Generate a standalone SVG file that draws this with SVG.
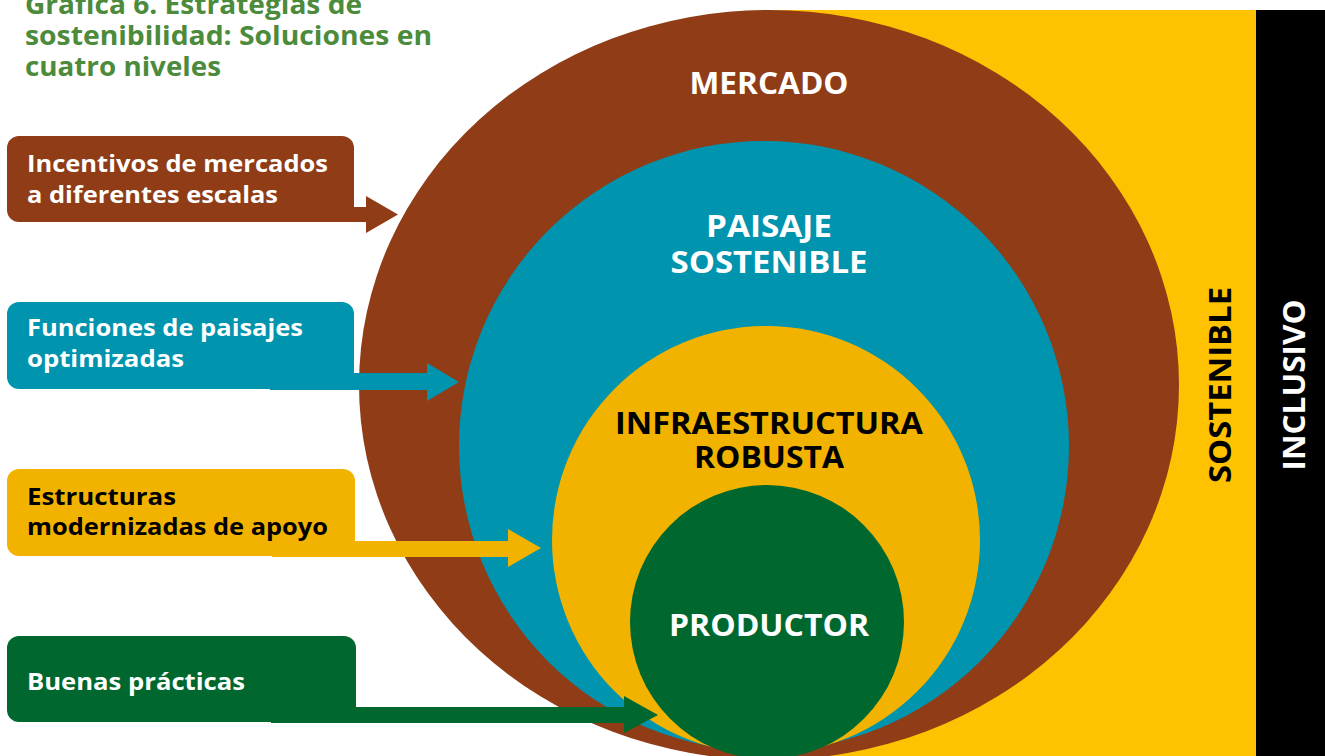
<svg xmlns="http://www.w3.org/2000/svg" width="1325" height="756" viewBox="0 0 1325 756">
<style>
.t{font-family:"Open Sans","Liberation Sans",sans-serif;font-weight:700}
.ttl{fill:#4b8b3b;font-size:27px}
.lbl{font-size:24px}
.big{font-size:30px;text-anchor:middle}
.w{fill:#ffffff}
.k{fill:#000000}
</style>
<rect width="1325" height="756" fill="#ffffff"/>
<g id="bands">
<rect x="775" y="10" width="481" height="746" fill="#fec200"/>
<rect x="1256" y="10" width="69" height="746" fill="#000000"/>
<text class="t k" font-size="31" text-anchor="middle" transform="translate(1231,385) rotate(-90)" textLength="196" lengthAdjust="spacingAndGlyphs">SOSTENIBLE</text>
<text class="t w" font-size="31" text-anchor="middle" transform="translate(1305,385) rotate(-90)" textLength="171" lengthAdjust="spacingAndGlyphs">INCLUSIVO</text>
</g>
<g id="title">
<text class="t ttl" x="25" y="14" textLength="337" lengthAdjust="spacingAndGlyphs">Gráfica 6. Estrategias de</text>
<text class="t ttl" x="25" y="45" textLength="407" lengthAdjust="spacingAndGlyphs">sostenibilidad: Soluciones en</text>
<text class="t ttl" x="25" y="76" textLength="196" lengthAdjust="spacingAndGlyphs">cuatro niveles</text>
</g>
<g id="mercado">
<ellipse cx="769" cy="385" rx="410" ry="375" fill="#8f3c17"/>
<text class="t big w" x="769" y="94" textLength="159" lengthAdjust="spacingAndGlyphs">MERCADO</text>
</g>
<g id="paisaje">
<circle cx="764" cy="446" r="305" fill="#0094ae"/>
<text class="t big w" x="769" y="237" textLength="126" lengthAdjust="spacingAndGlyphs">PAISAJE</text>
<text class="t big w" x="769" y="273" textLength="197" lengthAdjust="spacingAndGlyphs">SOSTENIBLE</text>
</g>
<g id="infraestructura">
<circle cx="766" cy="540" r="214" fill="#f2b200"/>
<text class="t big k" x="769" y="434" textLength="308" lengthAdjust="spacingAndGlyphs">INFRAESTRUCTURA</text>
<text class="t big k" x="769" y="468" textLength="150" lengthAdjust="spacingAndGlyphs">ROBUSTA</text>
</g>
<g id="productor">
<circle cx="767" cy="622" r="137" fill="#00682e"/>
<text class="t big w" x="769" y="636" textLength="200" lengthAdjust="spacingAndGlyphs">PRODUCTOR</text>
</g>
<g id="connectors">
<path d="M300,207 H366 V196 L398,214.5 L366,233 V222 H300 Z" fill="#8f3c17"/>
<path d="M270,373 H427 V363 L459,382 L427,401 V390 H270 Z" fill="#0094ae"/>
<path d="M272,541 H508 V529 L541,548 L508,567 V557 H272 Z" fill="#f2b200"/>
<path d="M271,707 H624 V696 L658,715 L624,733 V723 H271 Z" fill="#00682e"/>
</g>
<g id="box-incentivos">
<rect x="7" y="136" width="347" height="86" rx="12" fill="#8f3c17"/>
<text class="t lbl w" x="27" y="172" textLength="301" lengthAdjust="spacingAndGlyphs">Incentivos de mercados</text>
<text class="t lbl w" x="27" y="203" textLength="251" lengthAdjust="spacingAndGlyphs">a diferentes escalas</text>
</g>
<g id="box-funciones">
<rect x="7" y="302" width="347" height="87" rx="12" fill="#0094ae"/>
<text class="t lbl w" x="27" y="336" textLength="276" lengthAdjust="spacingAndGlyphs">Funciones de paisajes</text>
<text class="t lbl w" x="27" y="367" textLength="157" lengthAdjust="spacingAndGlyphs">optimizadas</text>
</g>
<g id="box-estructuras">
<rect x="7" y="469" width="348" height="87" rx="12" fill="#f2b200"/>
<text class="t lbl k" x="27" y="505" textLength="149" lengthAdjust="spacingAndGlyphs">Estructuras</text>
<text class="t lbl k" x="27" y="535" textLength="301" lengthAdjust="spacingAndGlyphs">modernizadas de apoyo</text>
</g>
<g id="box-buenas">
<rect x="7" y="636" width="349" height="86" rx="12" fill="#00682e"/>
<text class="t lbl w" x="27" y="690" textLength="218" lengthAdjust="spacingAndGlyphs">Buenas prácticas</text>
</g>
</svg>
